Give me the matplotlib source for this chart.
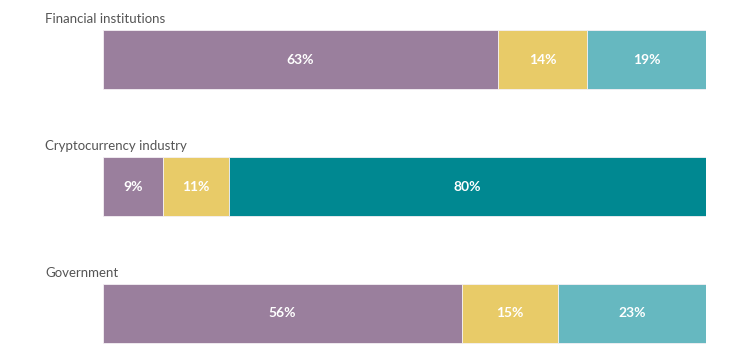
import matplotlib.pyplot as plt
import numpy as np

# Data
groups = ['Financial institutions', 'Cryptocurrency industry', 'Government']
# printed labels
purple_lbl = [63, 9, 56]
yellow_lbl = [14, 11, 15]
teal_lbl = [19, 80, 23]
# segment lengths as drawn in the picture (share of bar, %)
purple_len = [65.5, 10.0, 59.5]
yellow_len = [14.8, 10.9, 15.9]
teal_len = [19.7, 79.1, 24.6]
teal_colors = ['#66b8c0', '#008891', '#66b8c0']

purple = '#9a7f9d'
yellow = '#e8cb68'

plt.rcParams['font.family'] = ['Lato', 'DejaVu Sans']

fig = plt.figure(figsize=(7.36, 3.63), dpi=100)
ax = fig.add_axes([103 / 736, 0, 603 / 736, 1])

y = np.arange(len(groups))
p = np.array(purple_len)
yl = np.array(yellow_len)
t = np.array(teal_len)

h = 0.465
ax.barh(y, p, height=h, color=purple, edgecolor='#f4f0f4', linewidth=0.6)
ax.barh(y, yl, left=p, height=h, color=yellow, edgecolor='#f4f0f4', linewidth=0.6)
ax.barh(y, t, left=p + yl, height=h, color=teal_colors, edgecolor='#f4f0f4', linewidth=0.6)

for i in range(len(groups)):
    ax.text(p[i] / 2, i, f'{purple_lbl[i]}%', color='white', fontsize=10,
            fontweight='bold', ha='center', va='center')
    ax.text(p[i] + yl[i] / 2, i, f'{yellow_lbl[i]}%', color='white', fontsize=10,
            fontweight='bold', ha='center', va='center')
    ax.text(p[i] + yl[i] + t[i] / 2, i, f'{teal_lbl[i]}%', color='white', fontsize=10,
            fontweight='bold', ha='center', va='center')
    ax.text(-9.6, i - 0.32, groups[i], color='#555555', fontsize=9.5,
            ha='left', va='center', clip_on=False)

ax.set_xlim(0, 100)
ax.set_ylim(2.39, -0.469)
ax.axis('off')

fig.savefig('out.png', dpi=100)
